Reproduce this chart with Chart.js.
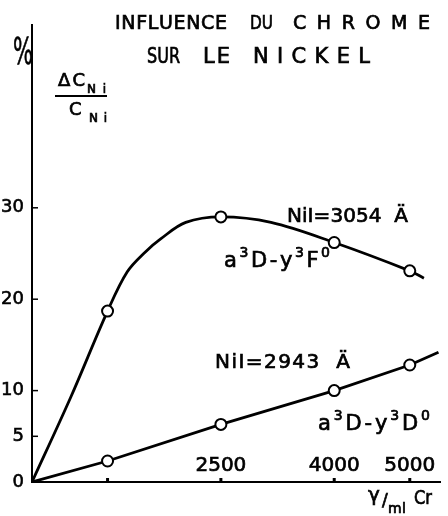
<!DOCTYPE html>
<html>
<head>
<meta charset="utf-8">
<script src="https://cdn.jsdelivr.net/npm/chart.js@4/dist/chart.umd.min.js"></script>
<style>
  html, body { margin: 0; padding: 0; background: #fff; }
  canvas { display: block; }
</style>
</head>
<body>
<canvas id="chart" width="448" height="516"></canvas>
<script>
// Valeurs (γ/ml de Cr, ΔC/C en %)
const xTicks = [1000, 2500, 4000, 5000];
const xTickLabels = ['', '2500', '4000', '5000'];
const yTicks = [0, 5, 10, 20, 30];

// points de mesure
const mesuresX = [1000, 2500, 4000, 5000];
const ni3054 = [18.7, 29.0, 26.2, 23.1];

// tracé de la courbe NiI 3054 (relevé le long du trait)
const courbe3054X = [0, 514, 1000, 1261, 1504, 1703, 2035, 2500, 3163, 4000, 5000, 5187];
const courbe3054Y = [0, 9.3, 18.7, 23.0, 25.2, 26.6, 28.4, 29.0, 28.4, 26.2, 23.1, 22.3];

// droite NiI 2943
const droite2943X = [0, 1000, 2500, 4000, 5000, 5380];
const droite2943Y = [0, 2.3, 6.3, 10.0, 12.8, 14.2];

const FONT = '"DejaVu Sans", sans-serif';

function toPoints(xs, ys) {
    return xs.map((x, i) => ({ x: x, y: ys[i] }));
}

// écrit un texte lettre par lettre entre x1 et x2 (parts: [texte, taille, décalage vertical])
function drawParts(ctx, parts, x1, x2, base) {
    const chars = [];
    parts.forEach(p => {
        for (const c of p[0]) chars.push({ c: c, size: p[1], dy: p[2] || 0 });
    });
    let total = 0;
    chars.forEach(ch => {
        ctx.font = ch.size + 'px ' + FONT;
        ch.w = ctx.measureText(ch.c).width;
        total += ch.w;
    });
    const k = Math.min(1, (x2 - x1) / total);
    const gap = chars.length > 1 ? (x2 - x1 - total * k) / (chars.length - 1) : 0;
    let x = x1;
    chars.forEach(ch => {
        ctx.save();
        ctx.font = ch.size + 'px ' + FONT;
        ctx.translate(x, base + ch.dy);
        ctx.scale(k, 1);
        ctx.lineWidth = 0.7;
        ctx.fillText(ch.c, 0, 0);
        ctx.strokeText(ch.c, 0, 0);
        ctx.restore();
        x += ch.w * k + gap;
    });
}

// textes et petites graduations
const annotations = {
    id: 'annotations',
    afterDraw(chart) {
        const ctx = chart.ctx;
        const xs = chart.scales.x;
        const ys = chart.scales.y;
        const area = chart.chartArea;
        ctx.save();
        ctx.fillStyle = '#000';
        ctx.strokeStyle = '#000';
        ctx.textBaseline = 'alphabetic';
        ctx.textAlign = 'left';

        // graduations vers l'intérieur
        ctx.lineWidth = 1.5;
        yTicks.forEach(v => {
            if (v === 0) return;
            const py = ys.getPixelForValue(v);
            ctx.beginPath();
            ctx.moveTo(area.left, py);
            ctx.lineTo(area.left + 6, py);
            ctx.stroke();
        });
        ctx.lineWidth = 3;
        xTicks.forEach(v => {
            const px = xs.getPixelForValue(v);
            ctx.beginPath();
            ctx.moveTo(px, area.bottom);
            ctx.lineTo(px, area.bottom - 4);
            ctx.stroke();
        });

        // titre
        drawParts(ctx, [['INFLUENCE', 19]], 115, 227, 29);
        drawParts(ctx, [['DU', 19]], 250, 273, 29);
        drawParts(ctx, [['CHROME', 19]], 293, 430, 29);
        drawParts(ctx, [['SUR', 21]], 147, 180, 63);
        drawParts(ctx, [['LE', 21]], 203, 230, 63);
        drawParts(ctx, [['NICKEL', 21]], 253, 370, 63);

        // unité de l'axe vertical
        drawParts(ctx, [['%', 38]], 13, 33, 64);
        drawParts(ctx, [['ΔC', 18]], 58, 85, 86);
        drawParts(ctx, [['Ni', 12]], 87, 106, 93);
        ctx.lineWidth = 2;
        ctx.beginPath();
        ctx.moveTo(55, 96);
        ctx.lineTo(107, 96);
        ctx.stroke();
        drawParts(ctx, [['C', 18]], 69, 82, 115);
        drawParts(ctx, [['Ni', 12]], 89, 107, 122);

        // légendes des courbes
        drawParts(ctx, [['NiI=3054  Ä', 20]], 287, 408, 222);
        drawParts(ctx, [['a', 21], ['3', 14, -10], ['D-y', 21], ['3', 14, -10], ['F', 21], ['0', 14, -10]], 224, 330, 267);
        drawParts(ctx, [['NiI=2943  Ä', 20]], 215, 350, 368);
        drawParts(ctx, [['a', 21], ['3', 14, -10], ['D-y', 21], ['3', 14, -10], ['D', 21], ['0', 14, -10]], 318, 430, 430);

        // unité de l'axe horizontal
        drawParts(ctx, [['γ', 20]], 368, 383, 501);
        drawParts(ctx, [['/', 17]], 382, 392, 506);
        drawParts(ctx, [['ml', 14]], 388, 406, 513);
        drawParts(ctx, [['Cr', 19]], 414, 432, 504);

        ctx.restore();
    }
};

const ctx = document.getElementById('chart').getContext('2d');

new Chart(ctx, {
    type: 'line',
    data: {
        datasets: [
            {
                label: 'mesures NiI=3054',
                data: toPoints(mesuresX, ni3054),
                showLine: false,
                pointRadius: 5.5,
                pointBackgroundColor: '#fff',
                pointBorderColor: '#000',
                pointBorderWidth: 2
            },
            {
                label: 'NiI=3054',
                data: toPoints(courbe3054X, courbe3054Y),
                borderColor: '#000',
                borderWidth: 2.8,
                pointRadius: 0,
                tension: 0.35,
                fill: false
            },
            {
                label: 'NiI=2943',
                data: toPoints(droite2943X, droite2943Y),
                borderColor: '#000',
                borderWidth: 2.8,
                tension: 0,
                pointRadius: [0, 5.5, 5.5, 5.5, 5.5, 0],
                pointBackgroundColor: '#fff',
                pointBorderColor: '#000',
                pointBorderWidth: 2,
                fill: false
            }
        ]
    },
    options: {
        responsive: false,
        animation: false,
        layout: { padding: { top: 25, right: 8, left: 0, bottom: 0 } },
        plugins: {
            legend: { display: false },
            tooltip: { enabled: false }
        },
        scales: {
            x: {
                type: 'linear',
                min: 0,
                max: 5400,
                grid: { display: false, drawTicks: false },
                border: { display: true, color: '#000', width: 2 },
                afterBuildTicks: scale => { scale.ticks = xTicks.map(v => ({ value: v })); },
                afterFit: scale => { scale.height = 34; },
                ticks: {
                    color: '#000',
                    mirror: true,
                    padding: 4,
                    maxRotation: 0,
                    autoSkip: false,
                    textStrokeColor: '#000',
                    textStrokeWidth: 0.7,
                    font: { family: FONT, size: 20 },
                    callback: (value, index) => xTickLabels[index]
                }
            },
            y: {
                min: 0,
                max: 50,
                grid: { display: false, drawTicks: false },
                border: { display: true, color: '#000', width: 2 },
                afterBuildTicks: scale => { scale.ticks = yTicks.map(v => ({ value: v })); },
                afterFit: scale => { scale.width = 32; },
                ticks: {
                    color: '#000',
                    padding: 8,
                    textStrokeColor: '#000',
                    textStrokeWidth: 0.6,
                    font: { family: FONT, size: 18 }
                }
            }
        }
    },
    plugins: [annotations]
});
</script>
</body>
</html>
